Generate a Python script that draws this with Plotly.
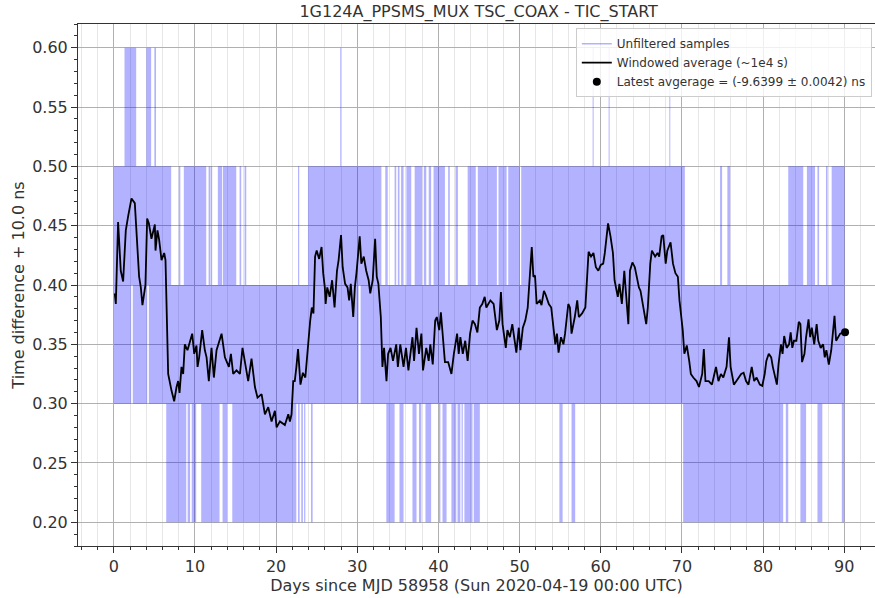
import plotly.graph_objects as go

# ---------------- data ----------------
title = "1G124A_PPSMS_MUX TSC_COAX - TIC_START"
x_label = "Days since MJD 58958 (Sun 2020-04-19 00:00 UTC)"
y_label = "Time difference + 10.0 ns"

# Unfiltered samples: quantised levels (ns); time intervals (days) in which the
# raw samples occupy each level band
band_02_03 = [(6.46, 8.93), (9.1, 9.4), (9.6, 10.15), (10.77, 13.03), (13.4, 14.0),
              (14.6, 22.49), (22.7, 22.9), (23.1, 23.3), (23.45, 23.6), (24.3, 24.5),
              (33.58, 34.6), (35.2, 35.7), (36.8, 37.3), (37.6, 37.9), (38.4, 39.1),
              (40.07, 40.24), (40.5, 41.0), (41.6, 42.2), (42.35, 42.7), (42.85, 43.0),
              (43.2, 44.2), (44.35, 45.1), (54.9, 55.3), (56.4, 56.85), (70.15, 82.48),
              (82.8, 83.1), (84.6, 85.3), (86.7, 87.3), (89.7, 90.0)]
band_03_04 = [(0.0, 2.14), (2.34, 4.12), (4.32, 30.17), (30.41, 90.05)]
band_04_05 = [(0.0, 7.07), (8.0, 8.2), (8.63, 11.39), (11.68, 11.92), (12.0, 12.12),
              (12.82, 13.35), (13.45, 15.09), (15.5, 15.7), (16.11, 16.32), (22.7, 22.85),
              (23.92, 32.97), (33.45, 33.75), (34.6, 34.8), (35.0, 35.2), (35.4, 35.7),
              (36.05, 36.65), (37.07, 38.0), (38.2, 38.5), (38.8, 39.1), (39.4, 40.8),
              (41.2, 41.4), (42.1, 42.4), (43.6, 44.6), (44.85, 47.2), (47.4, 48.4),
              (48.6, 50.0), (50.2, 70.36), (74.7, 74.95), (75.6, 75.95), (83.1, 84.95),
              (85.4, 86.4), (86.7, 86.9), (87.75, 87.95), (88.45, 90.05)]
band_05_06 = [(1.32, 2.76), (4.0, 4.6), (5.0, 5.2), (27.9, 28.02), (59.0, 59.12),
              (60.97, 61.09), (68.45, 68.57)]
bands = [(0.2, 0.3, band_02_03), (0.3, 0.4, band_03_04),
         (0.4, 0.5, band_04_05), (0.5, 0.6, band_05_06)]

# Windowed average
avg_days = [0.12, 0.25, 0.53, 0.86, 1.15, 1.48, 1.77, 1.97, 2.18, 2.59, 2.88, 3.12, 3.33, 3.53,
            3.90, 4.11, 4.32, 4.64, 5.06, 5.14, 5.38, 5.59, 5.88, 6.21, 6.37, 6.49, 6.70, 7.11,
            7.44, 7.73, 7.93, 8.10, 8.34, 8.55, 8.75, 9.08, 9.66, 9.91, 10.19, 10.32, 10.52,
            10.89, 11.22, 11.43, 11.71, 12.04, 12.33, 12.66, 13.28, 13.69, 14.18, 14.43, 14.71,
            15.12, 15.54, 15.86, 16.15, 16.56, 16.97, 17.39, 17.71, 18.21, 18.62, 19.03, 19.44,
            19.85, 20.06, 20.47, 21.08, 21.50, 21.70, 21.90, 22.11, 22.3, 22.5, 22.7, 23.0,
            23.3, 23.6, 23.8, 24.0, 24.2, 24.4, 24.6, 24.8, 25.0, 25.3, 25.6, 25.8, 26.0, 26.1,
            26.3, 26.6, 26.9, 27.2, 27.5, 27.7, 28.0, 28.2, 28.5, 28.8, 29.0, 29.2, 29.5, 29.7,
            29.9, 30.3, 30.5, 30.8, 31.1, 31.4, 31.6, 31.9, 32.2, 32.4, 32.6, 32.9, 33.1, 33.3,
            33.6, 33.8, 34.1, 34.4, 34.8, 35.0, 35.3, 35.7, 36.0, 36.3, 36.6, 36.8, 37.0, 37.3,
            37.6, 37.9, 38.1, 38.5, 38.8, 39.0, 39.3, 39.6, 39.8, 40.1, 40.3, 40.5, 40.8, 41.2,
            41.6, 41.9, 42.3, 42.5, 42.7, 43.0, 43.3, 43.6, 43.9, 44.2, 44.5, 44.8, 45.1, 45.4,
            45.7, 45.9, 46.4, 46.8, 47.2, 47.5, 47.7, 47.9, 48.3, 48.5, 48.8, 49.1, 49.4, 49.6,
            49.9, 50.1, 50.4, 50.7, 51.0, 51.3, 51.5, 51.7, 51.9, 52.1, 52.5, 52.7, 53.0, 53.2,
            53.6, 53.9, 54.2, 54.4, 54.6, 54.8, 55.1, 55.4, 55.6, 56.0, 56.2, 56.4, 56.8, 57.1,
            57.3, 57.7, 58.1, 58.3, 58.5, 58.8, 59.1, 59.4, 59.7, 60.0, 60.3, 60.5, 60.7, 60.9,
            61.2, 61.5, 61.7, 61.9, 62.1, 62.3, 62.6, 62.9, 63.2, 63.4, 63.6, 63.9, 64.2, 64.4,
            64.7, 64.9, 65.3, 65.6, 65.8, 66.1, 66.3, 66.7, 67.0, 67.2, 67.5, 67.7, 68.0, 68.2,
            68.6, 68.9, 69.2, 69.5, 69.7, 69.9, 70.1, 70.3, 70.6, 70.9, 71.1, 71.4, 71.8, 72.1,
            72.5, 72.7, 72.9, 73.3, 73.7, 74.0, 74.2, 74.5, 74.8, 75.1, 75.5, 75.8, 76.0, 76.4,
            76.7, 77.0, 77.3, 77.6, 77.9, 78.2, 78.6, 78.9, 79.2, 79.6, 79.9, 80.2, 80.4, 80.7,
            81.0, 81.2, 81.5, 81.7, 81.9, 82.2, 82.4, 82.6, 82.9, 83.2, 83.4, 83.6, 83.8, 84.1,
            84.4, 84.6, 84.8, 85.1, 85.3, 85.6, 85.8, 86.0, 86.3, 86.6, 86.8, 87.1, 87.4, 87.6,
            87.8, 88.1, 88.4, 88.6, 88.8, 89.0, 89.3, 89.5, 89.9]
avg_vals = [0.393, 0.384, 0.453, 0.412, 0.403, 0.446, 0.458, 0.466, 0.473, 0.469, 0.432, 0.407, 0.398, 0.383,
            0.400, 0.456, 0.452, 0.439, 0.451, 0.429, 0.446, 0.438, 0.421, 0.427, 0.421, 0.376, 0.325, 0.311,
            0.302, 0.314, 0.319, 0.309, 0.331, 0.325, 0.350, 0.345, 0.359, 0.342, 0.349, 0.331, 0.339,
            0.362, 0.345, 0.339, 0.319, 0.347, 0.322, 0.345, 0.359, 0.339, 0.331, 0.342, 0.325,
            0.328, 0.325, 0.347, 0.336, 0.319, 0.338, 0.314, 0.305, 0.308, 0.291, 0.297, 0.285,
            0.294, 0.280, 0.285, 0.282, 0.291, 0.285, 0.291, 0.319, 0.319, 0.331, 0.346, 0.316,
            0.326, 0.322, 0.339, 0.353, 0.370, 0.381, 0.376, 0.424, 0.429, 0.422, 0.432, 0.410, 0.398, 0.384,
            0.398, 0.390, 0.404, 0.381, 0.412, 0.421, 0.442, 0.415, 0.401, 0.398, 0.387, 0.401, 0.373, 0.398,
            0.410, 0.441, 0.418, 0.424, 0.412, 0.404, 0.393, 0.404, 0.439, 0.407, 0.401, 0.373, 0.331, 0.347,
            0.319, 0.342, 0.347, 0.336, 0.350, 0.331, 0.350, 0.331, 0.347, 0.328, 0.347, 0.356, 0.336, 0.364,
            0.342, 0.359, 0.328, 0.347, 0.336, 0.350, 0.333, 0.370, 0.373, 0.362, 0.377, 0.359, 0.335, 0.335,
            0.325, 0.342, 0.359, 0.342, 0.356, 0.342, 0.353, 0.336, 0.359, 0.370, 0.367, 0.360, 0.381, 0.384,
            0.390, 0.381, 0.387, 0.384, 0.362, 0.370, 0.394, 0.367, 0.347, 0.362, 0.356, 0.367, 0.353, 0.343,
            0.364, 0.345, 0.364, 0.370, 0.381, 0.410, 0.432, 0.407, 0.408, 0.384, 0.387, 0.383, 0.395, 0.392,
            0.384, 0.381, 0.364, 0.350, 0.359, 0.343, 0.356, 0.350, 0.359, 0.384, 0.381, 0.359, 0.373, 0.387,
            0.373, 0.376, 0.381, 0.404, 0.428, 0.424, 0.427, 0.415, 0.412, 0.417, 0.418, 0.427, 0.439, 0.452,
            0.441, 0.427, 0.404, 0.398, 0.390, 0.401, 0.384, 0.412, 0.387, 0.367, 0.412, 0.419, 0.415, 0.407,
            0.398, 0.395, 0.379, 0.367, 0.381, 0.418, 0.429, 0.424, 0.427, 0.424, 0.441, 0.442, 0.418, 0.429,
            0.436, 0.418, 0.410, 0.407, 0.387, 0.376, 0.362, 0.342, 0.349, 0.336, 0.325, 0.322, 0.319, 0.314,
            0.325, 0.346, 0.319, 0.319, 0.316, 0.325, 0.331, 0.319, 0.325, 0.322, 0.331, 0.356, 0.331, 0.316,
            0.319, 0.322, 0.325, 0.326, 0.319, 0.316, 0.331, 0.319, 0.322, 0.316, 0.315, 0.325, 0.336, 0.342,
            0.339, 0.331, 0.322, 0.316, 0.333, 0.350, 0.342, 0.357, 0.347, 0.350, 0.360, 0.347, 0.353, 0.353,
            0.369, 0.367, 0.335, 0.342, 0.356, 0.371, 0.356, 0.364, 0.350, 0.367, 0.353, 0.347, 0.350, 0.339,
            0.345, 0.333, 0.345, 0.359, 0.374, 0.353, 0.356, 0.359, 0.360]

latest_day = [90.1]
latest_val = [0.3601]

x_ticks = [0, 10, 20, 30, 40, 50, 60, 70, 80, 90]
y_ticks = [0.20, 0.25, 0.30, 0.35, 0.40, 0.45, 0.50, 0.55, 0.60]

# ---------------- figure ----------------
BLUE = "rgba(0,0,255,0.30)"
FONT = "DejaVu Sans"
TXT = "#333333"

fig = go.Figure()

# legend entry for the unfiltered samples (thin light blue line)
fig.add_trace(go.Scatter(x=[None], y=[None], mode="lines",
                         line=dict(color=BLUE, width=1.5), name="Unfiltered samples"))

for lo, hi, intervals in bands:
    xs, ys = [], []
    for a, b in intervals:
        xs += [a, b, b, a, a, None]
        ys += [lo, lo, hi, hi, lo, None]
    fig.add_trace(go.Scatter(x=xs, y=ys, mode="lines", fill="toself", fillcolor=BLUE,
                             line=dict(width=0, color=BLUE), showlegend=False,
                             hoverinfo="skip"))

fig.add_trace(go.Scatter(x=avg_days, y=avg_vals, mode="lines",
                         line=dict(color="black", width=1.8),
                         name="Windowed average (~1e4 s)"))
fig.add_trace(go.Scatter(x=latest_day, y=latest_val, mode="markers",
                         marker=dict(color="black", size=8),
                         name="Latest avgerage = (-9.6399 ± 0.0042) ns"))

fig.update_layout(
    width=875, height=598,
    margin=dict(l=78, r=0, t=24, b=52),
    paper_bgcolor="white", plot_bgcolor="white",
    font=dict(family=FONT, size=16, color=TXT),
    title=dict(text=title, x=0.547, xanchor="center", y=1 - 11 / 598, yanchor="middle",
               font=dict(family=FONT, size=16, color=TXT)),
    legend=dict(x=0.996, xanchor="right", y=0.992, yanchor="top",
                bgcolor="rgba(255,255,255,0.8)", bordercolor="#cccccc", borderwidth=1,
                font=dict(family=FONT, size=12, color=TXT), itemwidth=30,
                tracegroupgap=0),
    showlegend=True,
)

fig.update_xaxes(
    range=[-4.41, 93.79], tickvals=x_ticks, ticktext=[str(v) for v in x_ticks],
    showgrid=True, gridcolor="#b0b0b0", gridwidth=1, zeroline=False,
    showline=True, linecolor="#333333", linewidth=1, mirror=True,
    ticks="outside", ticklen=6, tickcolor="#333333",
    minor=dict(dtick=2, tick0=0, ticks="outside", ticklen=3, tickcolor="#333333",
               showgrid=True, gridcolor="#e6e6e6", gridwidth=1),
    title=dict(text=x_label, standoff=2, font=dict(family=FONT, size=16, color=TXT)),
    tickfont=dict(family=FONT, size=16, color=TXT),
)
fig.update_yaxes(
    range=[0.18, 0.62], tickvals=y_ticks, ticktext=[f"{v:.2f}" for v in y_ticks],
    showgrid=True, gridcolor="#b0b0b0", gridwidth=1, zeroline=False,
    showline=True, linecolor="#333333", linewidth=1, mirror=False,
    ticks="outside", ticklen=6, tickcolor="#333333",
    minor=dict(dtick=0.01, tick0=0.2, ticks="outside", ticklen=3, tickcolor="#333333",
               showgrid=False),
    title=dict(text=y_label, standoff=3, font=dict(family=FONT, size=16, color=TXT)),
    tickfont=dict(family=FONT, size=16, color=TXT),
)

fig.write_html("out.html")
